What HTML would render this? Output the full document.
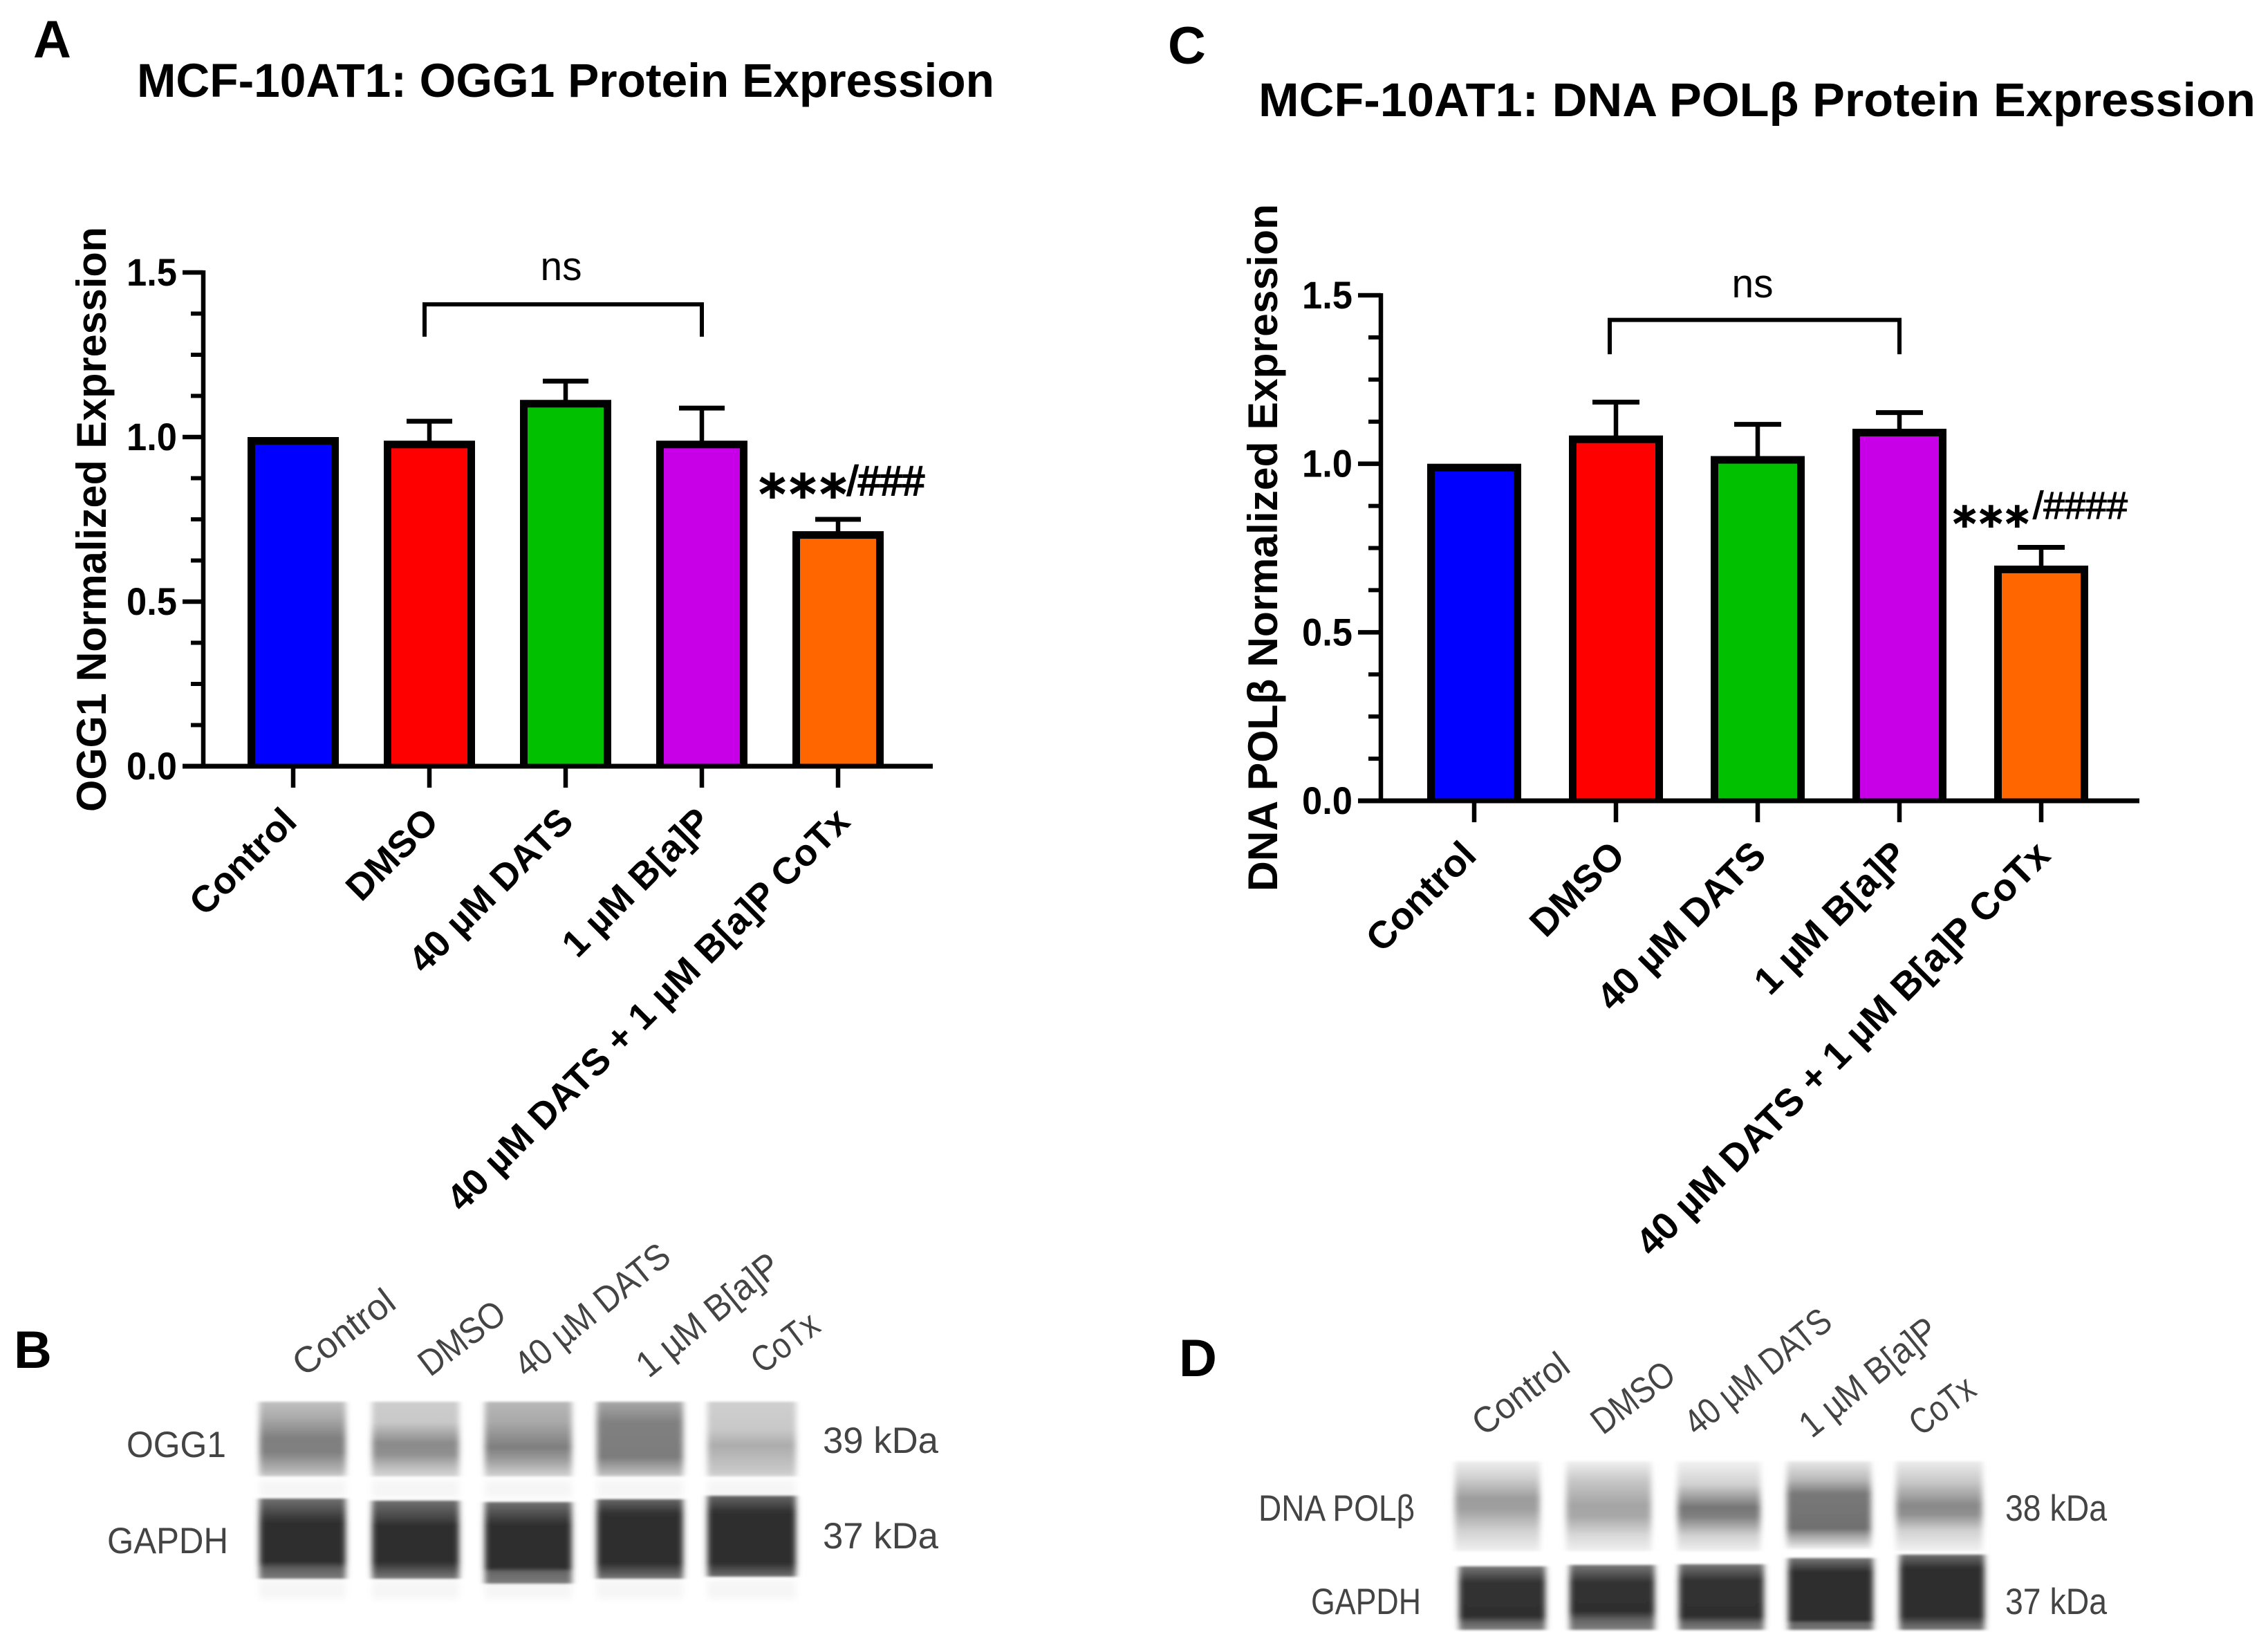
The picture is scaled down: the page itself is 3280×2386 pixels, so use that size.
<!DOCTYPE html>
<html lang="en">
<head>
<meta charset="utf-8">
<title>MCF-10AT1 protein expression</title>
<style>
html,body{margin:0;padding:0;background:#fff;}
svg{display:block;}
text{font-family:"Liberation Sans",sans-serif;}
.panel{font-weight:bold;font-size:76px;fill:#000;}
.title{font-weight:bold;font-size:69px;fill:#000;}
.ytitle{font-weight:bold;font-size:60px;fill:#000;}
.blot{font-size:53px;fill:#444;}
.hash{fill:#000;stroke:#000;}
.star{font-family:"DejaVu Sans",sans-serif;fill:#000;stroke:#000;stroke-width:3;}
</style>
</head>
<body>
<svg id="fig" xmlns="http://www.w3.org/2000/svg" width="3280" height="2386" viewBox="0 0 3280 2386">
<defs id="defs">
<filter id="soft" x="-10%" y="-10%" width="120%" height="120%"><feGaussianBlur stdDeviation="4.5 1.5"/></filter>
<filter id="softer" x="-10%" y="-30%" width="120%" height="160%"><feGaussianBlur stdDeviation="5 5"/></filter>
</defs>
<rect width="3280" height="2386" fill="#fff"/>

<text class="panel" x="48" y="83">A</text>
<text class="panel" x="1689" y="92">C</text>
<text class="panel" x="20" y="1978">B</text>
<text class="panel" x="1705" y="1990">D</text>

<text class="title" x="198" y="140" textLength="1240" lengthAdjust="spacingAndGlyphs">MCF-10AT1: OGG1 Protein Expression</text>
<text class="title" x="1820" y="168" textLength="1442" lengthAdjust="spacingAndGlyphs">MCF-10AT1: DNA POLβ Protein Expression</text>

<text class="ytitle" transform="translate(153,1174) rotate(-90)" textLength="846" lengthAdjust="spacingAndGlyphs">OGG1 Normalized Expression</text>
<text class="ytitle" transform="translate(1847,1289) rotate(-90)" textLength="994" lengthAdjust="spacingAndGlyphs">DNA POLβ Normalized Expression</text>

<g id="chart-a"></g>
<g id="chart-c"></g>

<text class="star" x="1098" y="741" font-size="76" letter-spacing="6">***</text>
<text class="hash" x="1225" y="716" font-size="60" stroke-width="2" textLength="112" lengthAdjust="spacingAndGlyphs">/###</text>
<text class="star" x="2825" y="780" font-size="65" letter-spacing="5.5">***</text>
<text class="hash" x="2940" y="750" font-size="56" stroke-width="1.2" textLength="137" lengthAdjust="spacingAndGlyphs">/####</text>

<g id="blot-b"></g>
<g id="blot-d"></g>

<text class="blot" x="183" y="2107" textLength="144" lengthAdjust="spacingAndGlyphs">OGG1</text>
<text class="blot" x="155" y="2246" textLength="175" lengthAdjust="spacingAndGlyphs">GAPDH</text>
<text class="blot" x="1190" y="2101" textLength="167" lengthAdjust="spacingAndGlyphs">39 kDa</text>
<text class="blot" x="1190" y="2239" textLength="167" lengthAdjust="spacingAndGlyphs">37 kDa</text>
<text class="blot" x="1820" y="2199" textLength="226" lengthAdjust="spacingAndGlyphs">DNA POLβ</text>
<text class="blot" x="1896" y="2334" textLength="159" lengthAdjust="spacingAndGlyphs">GAPDH</text>
<text class="blot" x="2900" y="2199" textLength="147" lengthAdjust="spacingAndGlyphs">38 kDa</text>
<text class="blot" x="2900" y="2334" textLength="147" lengthAdjust="spacingAndGlyphs">37 kDa</text>

<g>
<text class="blot" transform="translate(440,1992) rotate(-37)" textLength="170" lengthAdjust="spacingAndGlyphs">Control</text>
<text class="blot" transform="translate(622,1992) rotate(-37)" textLength="142" lengthAdjust="spacingAndGlyphs">DMSO</text>
<text class="blot" transform="translate(762,1994) rotate(-39)" textLength="272" lengthAdjust="spacingAndGlyphs">40 µM DATS</text>
<text class="blot" transform="translate(938,1994) rotate(-39)" textLength="250" lengthAdjust="spacingAndGlyphs">1 µM B[a]P</text>
<text class="blot" transform="translate(1103,1988) rotate(-37)" textLength="108" lengthAdjust="spacingAndGlyphs">CoTx</text>
</g>
<g>
<text class="blot" transform="translate(2146,2078) rotate(-37)" textLength="160" lengthAdjust="spacingAndGlyphs">Control</text>
<text class="blot" transform="translate(2318,2076) rotate(-37)" textLength="136" lengthAdjust="spacingAndGlyphs">DMSO</text>
<text class="blot" transform="translate(2454,2078) rotate(-39)" textLength="256" lengthAdjust="spacingAndGlyphs">40 µM DATS</text>
<text class="blot" transform="translate(2620,2081) rotate(-39)" textLength="240" lengthAdjust="spacingAndGlyphs">1 µM B[a]P</text>
<text class="blot" transform="translate(2778,2078) rotate(-37)" textLength="104" lengthAdjust="spacingAndGlyphs">CoTx</text>
</g>
</svg>

<script>
// ---- chart data ----
const categories = ["Control", "DMSO", "40 µM DATS", "1 µM B[a]P", "40 µM DATS + 1 µM B[a]P CoTx"];
const barColors = ["#0000ff", "#ff0000", "#00c000", "#c800e8", "#ff6600"];
const ogg1Means = [1.0, 0.989, 1.113, 0.989, 0.714];
const ogg1ErrorTops = [1.0, 1.048, 1.17, 1.088, 0.75];
const polMeans = [1.0, 1.084, 1.023, 1.104, 0.698];
const polErrorTops = [1.0, 1.183, 1.117, 1.152, 0.752];
const yTickValues = [0, 0.5, 1.0, 1.5];
const yTickLabels = ["0.0", "0.5", "1.0", "1.5"];
const yMinorValues = [0.125, 0.25, 0.375, 0.625, 0.75, 0.875, 1.125, 1.25, 1.375];

// ---- blot gray profiles: [position along band, gray level] ----
const blotBTop = [
  [[2027,192],[2050,170],[2080,127],[2100,128],[2127,181],[2135,208]],
  [[2027,205],[2057,200],[2087,138],[2103,144],[2123,192],[2135,213]],
  [[2027,184],[2057,168],[2093,126],[2113,160],[2130,200],[2135,210]],
  [[2027,168],[2057,128],[2107,124],[2130,184],[2135,205]],
  [[2027,207],[2067,200],[2090,172],[2127,200],[2135,213]]
];
const blotBGapdh = [
  [[2167,112],[2195,58],[2203,46],[2258,46],[2268,96],[2283,124]],
  [[2170,112],[2198,64],[2206,46],[2258,46],[2283,124]],
  [[2172,112],[2198,60],[2206,46],[2267,46],[2273,102],[2290,124]],
  [[2168,102],[2188,51],[2194,46],[2260,46],[2283,120]],
  [[2163,102],[2185,51],[2190,46],[2260,46],[2280,112]]
];
const blotDTop = [
  [[2113,238],[2137,208],[2167,156],[2183,160],[2213,208],[2243,240]],
  [[2113,240],[2140,200],[2177,164],[2193,168],[2220,216],[2243,240]],
  [[2113,242],[2147,208],[2180,117],[2193,128],[2220,208],[2243,240]],
  [[2113,232],[2140,184],[2160,120],[2210,112],[2220,160],[2240,240]],
  [[2113,236],[2143,200],[2177,136],[2190,144],[2213,208],[2243,242]]
];
const blotDGapdh = [
  [[2265,120],[2288,51],[2337,46],[2347,102],[2357,128]],
  [[2263,120],[2288,51],[2330,46],[2343,102],[2357,128]],
  [[2262,119],[2285,51],[2337,46],[2347,102],[2357,128]],
  [[2253,119],[2273,46],[2343,46],[2347,102],[2357,119]],
  [[2248,112],[2268,46],[2337,46],[2350,102],[2357,119]]
];

const SVGNS = "http://www.w3.org/2000/svg";
function mk(tag, attrs, parent) {
  const el = document.createElementNS(SVGNS, tag);
  for (const k in attrs) el.setAttribute(k, attrs[k]);
  parent.appendChild(el);
  return el;
}

function drawChart(rootId, prefix, means, errorTops, g) {
  const root = document.getElementById(rootId);
  const yScale = v => g.y0 - (v / 1.5) * (g.y0 - g.y15);
  const xScale = i => g.x1 + i * g.step;

  // bars: open-bottom outline sitting on the x axis
  means.forEach((v, i) => {
    const cx = xScale(i), top = yScale(v), sw = 11;
    const left = cx - g.barW / 2 + sw / 2, right = cx + g.barW / 2 - sw / 2;
    const bar = mk("path", {d: "M" + left + " " + g.y0 + "V" + (top + sw / 2) + "H" + right + "V" + g.y0, fill: barColors[i], stroke: "#000", "stroke-width": sw}, root);
    
    
    if (errorTops[i] > v) {
      const stem = mk("line", {x1: cx, x2: cx, y1: top + 2, y2: yScale(errorTops[i]), stroke: "#000", "stroke-width": 6.5}, root);
      
      
      const cap = mk("line", {x1: cx - g.capW / 2, x2: cx + g.capW / 2, y1: yScale(errorTops[i]), y2: yScale(errorTops[i]), stroke: "#000", "stroke-width": 7}, root);
      
      
    }
  });

  // axes
  const yAxis = mk("line", {x1: g.x0, x2: g.x0, y1: g.y15 - 3, y2: g.y0, stroke: "#000", "stroke-width": 6.5}, root);
  
  
  const xAxis = mk("line", {x1: g.x0 - g.majorLen, x2: g.xEnd, y1: g.y0, y2: g.y0, stroke: "#000", "stroke-width": 7}, root);
  
  

  yTickValues.forEach((v, i) => {
    const y = yScale(v);
    const tick = mk("line", {x1: g.x0 - g.majorLen, x2: g.x0, y1: y, y2: y, stroke: "#000", "stroke-width": 6.5}, root);
    
    
    const lab = mk("text", {x: g.labelRight, y: y + 19, "text-anchor": "end", "font-size": 56, "font-weight": "bold", fill: "#000", textLength: 73, lengthAdjust: "spacingAndGlyphs"}, root);
    lab.textContent = yTickLabels[i];
    
    
  });
  yMinorValues.forEach(v => {
    const y = yScale(v);
    const minor = mk("line", {x1: g.x0 - 18, x2: g.x0, y1: y, y2: y, stroke: "#000", "stroke-width": 6}, root);
    
    
  });

  categories.forEach((c, i) => {
    const x = xScale(i);
    const tick = mk("line", {x1: x, x2: x, y1: g.y0, y2: g.y0 + 31, stroke: "#000", "stroke-width": 6.5}, root);
    
    
    const lab = mk("text", {transform: "translate(" + (x + 10 + g.labelDx[i]) + "," + (g.y0 + 85 + g.labelDy) + ") rotate(-45)", "text-anchor": "end", "font-size": g.labelSize, "font-weight": "bold", fill: "#000"}, root);
    lab.textContent = c;
    
    
  });

  // significance bracket DMSO vs 1 µM B[a]P
  const bx1 = xScale(1) - g.bracketInset, bx2 = xScale(3);
  const bracket = mk("path", {d: "M" + bx1 + " " + yScale(g.bLow) + "V" + yScale(g.bHigh) + "H" + bx2 + "V" + yScale(g.bLow), fill: "none", stroke: "#000", "stroke-width": 6}, root);
  
  
  const ns = mk("text", {x: (bx1 + bx2) / 2 - 3, y: g.nsY, "text-anchor": "middle", "font-size": 58, fill: "#000", textLength: 60, lengthAdjust: "spacingAndGlyphs"}, root);
  ns.textContent = "ns";
  
  
}

drawChart("chart-a", "chart-a", ogg1Means, ogg1ErrorTops, {x0: 294, xEnd: 1349, y0: 1108, y15: 394, x1: 424, step: 197, barW: 132, capW: 66, majorLen: 30, labelSize: 54, labelDx: [-2, 6, 4, 6, 10], labelDy: -2, labelRight: 256, bLow: 1.305, bHigh: 1.403, bracketInset: 7, nsY: 405});
drawChart("chart-c", "chart-c", polMeans, polErrorTops, {x0: 1997, xEnd: 3094, y0: 1158, y15: 427, x1: 2132, step: 205, barW: 136, capW: 68, majorLen: 33, labelSize: 55.5, labelDx: [-4, 6, 5, 4, 6], labelDy: -3, labelRight: 1956, bLow: 1.325, bHigh: 1.427, bracketInset: 9, nsY: 430});

let gradCount = 0;
function drawBand(root, prefix, x0, x1, y0, y1, stops) {
  const id = "grad" + (gradCount++);
  const defs = document.getElementById("defs");
  const grad = mk("linearGradient", {id: id, gradientUnits: "userSpaceOnUse", x1: 0, x2: 0, y1: y0, y2: y1}, defs);
  stops.forEach(s => {
    const c = s[1];
    mk("stop", {offset: (s[0] - y0) / (y1 - y0), "stop-color": "rgb(" + c + "," + c + "," + c + ")"}, grad);
  });
  const band = mk("rect", {x: x0 + 3, y: y0, width: x1 - x0 - 6, height: y1 - y0, fill: "url(#" + id + ")", filter: "url(#soft)"}, root);
  
  
}

function halo(root, x0, x1, y0, y1) {
  const h = mk("rect", {x: x0 + 3, y: y0, width: x1 - x0 - 6, height: y1 - y0, fill: "#f6f6f6", filter: "url(#softer)"}, root);
  
  
}

const bRoot = document.getElementById("blot-b");
const bLanes = [[372,503],[535,667],[698,830],[860,991],[1020,1154]];
bLanes.forEach((l, i) => {
  halo(bRoot, l[0], l[1], 2140, 2166);
  halo(bRoot, l[0], l[1], 2285, 2312);
  const t = blotBTop[i], g = blotBGapdh[i];
  drawBand(bRoot, "blot-b-ogg1-band-" + i, l[0], l[1], t[0][0], t[t.length - 1][0], t);
  drawBand(bRoot, "blot-b-gapdh-band-" + i, l[0], l[1], g[0][0], g[g.length - 1][0], g);
});

const dRoot = document.getElementById("blot-d");
const dTopLanes = [[2101,2230],[2262,2391],[2423,2549],[2581,2709],[2739,2870]];
const dGapLanes = [[2107,2238],[2267,2396],[2425,2554],[2583,2712],[2744,2873]];
dTopLanes.forEach((l, i) => {
  const t = blotDTop[i], g = blotDGapdh[i], gl = dGapLanes[i];
  drawBand(dRoot, "blot-d-pol-beta-band-" + i, l[0], l[1], t[0][0], t[t.length - 1][0], t);
  drawBand(dRoot, "blot-d-gapdh-band-" + i, gl[0], gl[1], g[0][0], g[g.length - 1][0], g);
});
</script>
</body>
</html>
